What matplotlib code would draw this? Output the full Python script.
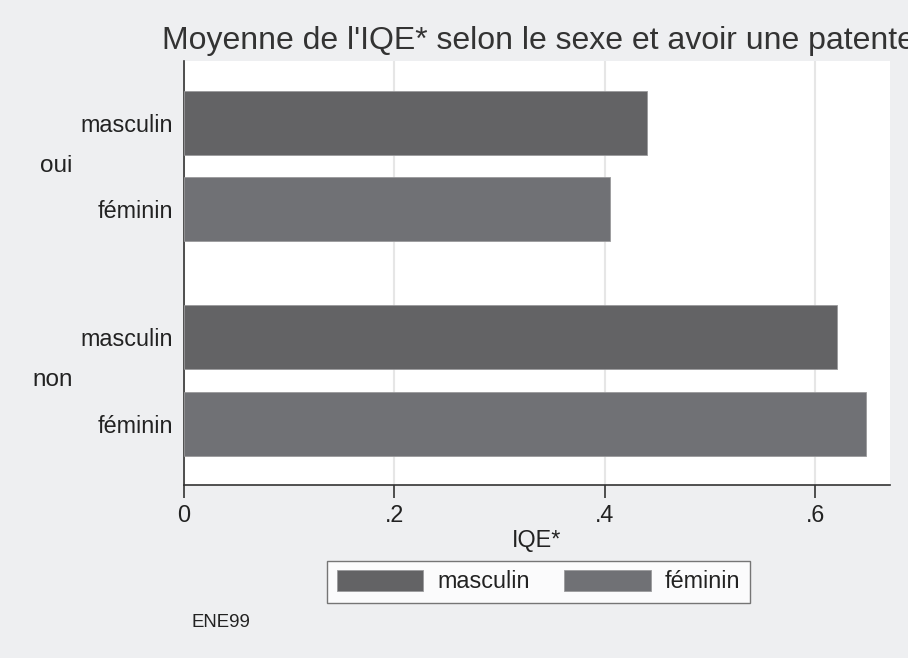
import matplotlib.pyplot as plt
from matplotlib.patches import Patch

plt.rcParams["font.family"] = ["Liberation Sans", "DejaVu Sans"]

groups = ["oui", "non"]
sexes = ["masculin", "féminin"]
iqe_oui = [0.440, 0.405]
iqe_non = [0.621, 0.648]
xticks = [0, 0.2, 0.4, 0.6]
xtick_labels = ["0", ".2", ".4", ".6"]

bg = "#eeeff1"
colors = ["#636365", "#707175"]
text_c = "#222222"

fig = plt.figure(figsize=(9.08, 6.58), dpi=100, facecolor=bg)
ax = fig.add_axes([0.2026, 0.263, 0.7774, 0.644])

gap = 0.48
pos = []
labels = []
for g, (grp, vals) in enumerate(zip(groups, [iqe_oui, iqe_non])):
    y = [g * (2 + gap) + i for i in range(2)]
    ax.barh(y, vals, height=0.74, color=colors, edgecolor="#9a9a9c",
            linewidth=0.6, zorder=3)
    pos += y
    labels += sexes
    ax.text(-0.106, (y[0] + y[1]) / 2, grp, ha="right", va="center",
            fontsize=17.5, color=text_c, transform=ax.transData)

ax.set_yticks(pos)
ax.set_yticklabels(labels, fontsize=16.8, color=text_c)
ax.tick_params(axis="y", length=0, pad=8)
ax.set_ylim(pos[-1] + 0.71, pos[0] - 0.71)

ax.set_xlim(0, 0.671)
ax.set_xticks(xticks)
ax.set_xticklabels(xtick_labels, fontsize=16.8, color=text_c)
ax.tick_params(axis="x", length=9, width=1.2, color="#333333", pad=5)
ax.set_xlabel("IQE*", fontsize=16.8, color=text_c, labelpad=1)
ax.grid(axis="x", color="#e6e6e6", linewidth=1.5, zorder=0)

for s in ["top", "right"]:
    ax.spines[s].set_visible(False)
for s in ["left", "bottom"]:
    ax.spines[s].set_color("#333333")
    ax.spines[s].set_linewidth(1.2)

fig.text(0.593, 0.937, "Moyenne de l'IQE* selon le sexe et avoir une patente",
         ha="center", va="center", fontsize=23, color="#333333")

handles = [Patch(facecolor=c, edgecolor="#9a9a9c", linewidth=0.6) for c in colors]
leg = fig.legend(handles, sexes, loc="center", bbox_to_anchor=(0.593, 0.116),
                 ncol=2, fontsize=16.8, frameon=True, fancybox=False,
                 handlelength=3.7, handleheight=1.0, columnspacing=1.5,
                 borderpad=0.4, handletextpad=0.6, borderaxespad=0)
leg.get_frame().set_edgecolor("#555555")
leg.get_frame().set_linewidth(1.0)
for t in leg.get_texts():
    t.set_color(text_c)

fig.text(0.211, 0.054, "ENE99", ha="left", va="center", fontsize=13.4, color=text_c)

fig.savefig("out.png", dpi=100, facecolor=bg)
